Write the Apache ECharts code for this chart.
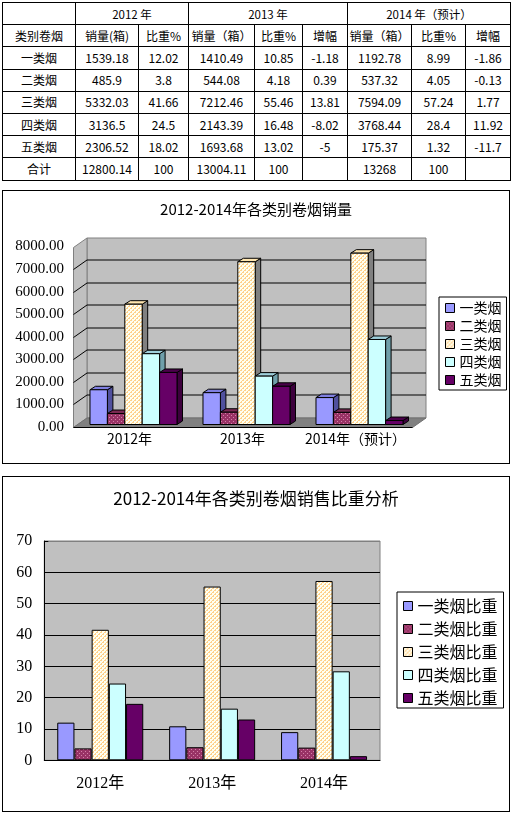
<!DOCTYPE html>
<html>
<head>
<meta charset="utf-8">
<script src="https://cdn.jsdelivr.net/npm/echarts@6/dist/echarts.min.js"></script>
<style>
body { margin: 0; background: #fff; width: 513px; height: 813px; position: relative; overflow: hidden;
       font-family: "Noto Sans CJK SC", sans-serif; color: #000; }
#tbl { position: absolute; left: 2px; top: 2px; width: 508px; border-collapse: collapse; table-layout: fixed; font-size: 12px; }
#tbl td { border: 1px solid #000; text-align: center; padding: 0; height: 21.2px; line-height: 14px; white-space: nowrap; overflow: hidden; }
#tbl tr.top td { font-size: 11.5px; }
.box { position: absolute; left: 2px; width: 508px; border: 1px solid #000; box-sizing: border-box; }
.box > div { width: 100%; height: 100%; }
</style>
</head>
<body>
<table id="tbl"></table>
<div class="box" style="top:190px;height:274px;"><div id="c1"></div></div>
<div class="box" style="top:476px;height:336px;"><div id="c2"></div></div>
<script>
// table / chart data
const tableYears = ['2012 年', '2013 年', '2014 年（预计）'];
const tableHeads = ['类别卷烟', '销量(箱)', '比重%', '销量（箱）', '比重%', '增幅', '销量（箱）', '比重%', '增幅'];
const kinds = ['一类烟', '二类烟', '三类烟', '四类烟', '五类烟'];
const sales2012 = [1539.18, 485.9, 5332.03, 3136.5, 2306.52];
const share2012 = [12.02, 3.8, 41.66, 24.5, 18.02];
const sales2013 = [1410.49, 544.08, 7212.46, 2143.39, 1693.68];
const share2013 = [10.85, 4.18, 55.46, 16.48, 13.02];
const growth2013 = [-1.18, 0.39, 13.81, -8.02, -5];
const sales2014 = [1192.78, 537.32, 7594.09, 3768.44, 175.37];
const share2014 = [8.99, 4.05, 57.24, 28.4, 1.32];
const growth2014 = [-1.86, -0.13, 1.77, 11.92, -11.7];
const totalRow = ['合计', 12800.14, 100, 13004.11, 100, '', 13268, 100, ''];
const salesYears = ['2012年', '2013年', '2014年（预计）'];
const shareYears = ['2012年', '2013年', '2014年'];
const shareNames = ['一类烟比重', '二类烟比重', '三类烟比重', '四类烟比重', '五类烟比重'];

const colWidths = [73, 63, 50, 66, 48, 45, 64, 54, 45];
const FONT = '"Noto Sans CJK SC", sans-serif';
const SERIF = '"Liberation Serif", "Noto Sans CJK SC", serif';

// build the table
(function () {
    let tbl = document.getElementById('tbl');
    let html = '<colgroup>' + colWidths.map(w => '<col style="width:' + w + 'px">').join('') + '</colgroup>';
    html += '<tr class="top"><td></td><td colspan="2">' + tableYears[0] + '</td><td colspan="3">' + tableYears[1] +
        '</td><td colspan="3">' + tableYears[2] + '</td></tr>';
    html += '<tr>' + tableHeads.map(h => '<td>' + h + '</td>').join('') + '</tr>';
    kinds.forEach(function (k, i) {
        let row = [k, sales2012[i], share2012[i], sales2013[i], share2013[i], growth2013[i], sales2014[i], share2014[i], growth2014[i]];
        html += '<tr>' + row.map(v => '<td>' + v + '</td>').join('') + '</tr>';
    });
    html += '<tr>' + totalRow.map(v => '<td>' + v + '</td>').join('') + '</tr>';
    tbl.innerHTML = html;
})();

// small dotted fills
function makePattern(base, dot, pts) {
    let cv = document.createElement('canvas');
    cv.width = 4; cv.height = 4;
    let ctx = cv.getContext('2d');
    ctx.fillStyle = base;
    ctx.fillRect(0, 0, 4, 4);
    ctx.fillStyle = dot;
    pts.forEach(p => ctx.fillRect(p[0], p[1], 1, 1));
    return { image: cv, repeat: 'repeat' };
}
const redDots = makePattern('#993366', '#d480a8', [[0, 0], [2, 2]]);
const yellowDots = makePattern('#fffff0', '#ffd08a', [[0, 0], [0, 1], [2, 2], [2, 3], [1, 3], [3, 1]]);

const fronts = ['#9999ff', redDots, yellowDots, '#ccffff', '#660066'];
const tops = ['#7f7fe0', '#7a2952', '#ffe6b0', '#9fd0dc', '#4a004a'];
const sides = ['#50509e', '#661f44', '#808080', '#6f9faa', '#3d003d'];

// ---------- chart 1: 3d-ish clustered columns ----------
const DX = 13.5, DY = -9.5;    // wall depth
const BX = 4, BY = -2.5;       // bar front offset
const BDX = 5.5, BDY = -3.5;   // bar depth
const SALES_MAX = 8000, SALES_STEP = 1000;

function px(v) { return Math.round(v) + 0.5; }

function renderWalls(params, api) {
    let cs = params.coordSys;
    let x0 = px(cs.x), x1 = px(cs.x + cs.width);
    let yb = px(api.coord([0, 0])[1]), yt = px(api.coord([0, SALES_MAX])[1]);
    let kids = [];
    kids.push({ type: 'rect', shape: { x: x0 + DX, y: yt + DY, width: x1 - x0, height: yb - yt },
        style: { fill: '#c0c0c0', stroke: '#808080', lineWidth: 1 } });
    kids.push({ type: 'polygon', shape: { points: [[x0, yb], [x0, yt], [x0 + DX, yt + DY], [x0 + DX, yb + DY]] },
        style: { fill: '#c0c0c0', stroke: '#808080', lineWidth: 1 } });
    kids.push({ type: 'polygon', shape: { points: [[x0, yb], [x1, yb], [x1 + DX, yb + DY], [x0 + DX, yb + DY]] },
        style: { fill: '#808080', stroke: '#707070', lineWidth: 1 } });
    for (let v = SALES_STEP; v < SALES_MAX; v += SALES_STEP) {
        let y = px(api.coord([0, v])[1]);
        kids.push({ type: 'line', shape: { x1: x0 + DX, y1: y + DY, x2: x1 + DX, y2: y + DY }, style: { stroke: '#000', lineWidth: 1 } });
        kids.push({ type: 'line', shape: { x1: x0, y1: y, x2: x0 + DX, y2: y + DY }, style: { stroke: '#000', lineWidth: 1 } });
    }
    kids.push({ type: 'line', shape: { x1: x0, y1: yb, x2: x1, y2: yb }, style: { stroke: '#000', lineWidth: 1 } });
    return { type: 'group', children: kids };
}

function barRenderer(k) {
    return function (params, api) {
        let c = api.value(0), v = api.value(1);
        let base = api.coord([c, 0]), peak = api.coord([c, v]);
        let bw = api.size([1, 0])[0] * 0.154;
        let x = base[0] - bw * 2.5 + k * bw + BX;
        let yb = base[1] + BY, yt = peak[1] + BY;
        return { type: 'group', children: [
            { type: 'polygon', shape: { points: [[x + bw, yt], [x + bw + BDX, yt + BDY], [x + bw + BDX, yb + BDY], [x + bw, yb]] },
              style: { fill: sides[k], stroke: '#000', lineWidth: 1 } },
            { type: 'polygon', shape: { points: [[x, yt], [x + bw, yt], [x + bw + BDX, yt + BDY], [x + BDX, yt + BDY]] },
              style: { fill: tops[k], stroke: '#000', lineWidth: 1 } },
            { type: 'rect', shape: { x: x, y: yt, width: bw, height: yb - yt },
              style: { fill: fronts[k], stroke: '#000', lineWidth: 1 } }
        ] };
    };
}

const salesByYear = [sales2012, sales2013, sales2014];
let c1Series = [{
    name: 'walls', type: 'custom', silent: true, renderItem: renderWalls,
    data: [[0, 0]], encode: { x: 0, y: 1 }
}];
kinds.forEach(function (name, k) {
    c1Series.push({
        name: name, type: 'custom', renderItem: barRenderer(k),
        itemStyle: { color: fronts[k] },
        encode: { x: 0, y: 1 },
        data: salesByYear.map((arr, i) => [i, arr[k]])
    });
});

const chart1 = echarts.init(document.getElementById('c1'));
chart1.setOption({
    animation: false,
    title: { text: '2012-2014年各类别卷烟销量', left: 'center', top: 6,
        textStyle: { fontFamily: FONT, fontSize: 15, fontWeight: 'normal', color: '#000' } },
    legend: {
        orient: 'vertical', left: 436, top: 106, icon: 'rect', itemWidth: 9, itemHeight: 9, itemGap: 4,
        padding: [4, 5, 3, 6], borderColor: '#000', borderWidth: 1,
        textStyle: { fontFamily: FONT, fontSize: 14, lineHeight: 14, color: '#000' },
        data: kinds.map((n, k) => ({ name: n, itemStyle: { color: fronts[k], borderColor: '#000', borderWidth: 1 } }))
    },
    grid: { left: 70, top: 55.5, width: 339, height: 180.5 },
    xAxis: {
        type: 'category', data: salesYears,
        axisLine: { show: false }, axisTick: { show: false },
        axisLabel: { interval: 0, margin: 5, fontFamily: FONT, fontSize: 14, color: '#000' }
    },
    yAxis: {
        type: 'value', min: 0, max: SALES_MAX, interval: SALES_STEP,
        axisLine: { show: false }, axisTick: { show: false }, splitLine: { show: false },
        axisLabel: { margin: 9, formatter: v => v.toFixed(2), fontFamily: SERIF, fontSize: 15, color: '#000' }
    },
    series: c1Series
});

// ---------- chart 2: flat clustered columns ----------
const shareByYear = [share2012, share2013, share2014];
const chart2 = echarts.init(document.getElementById('c2'));
chart2.setOption({
    animation: false,
    title: { text: '2012-2014年各类别卷烟销售比重分析', left: 'center', top: 8,
        textStyle: { fontFamily: FONT, fontSize: 17, fontWeight: 'normal', color: '#000' } },
    legend: {
        orient: 'vertical', left: 394, top: 115, icon: 'rect', itemWidth: 9, itemHeight: 9, itemGap: 7,
        padding: [6, 6, 2, 6], borderColor: '#000', borderWidth: 1,
        textStyle: { fontFamily: FONT, fontSize: 16, lineHeight: 16, color: '#000' },
        data: shareNames.map((n, k) => ({ name: n, itemStyle: { color: fronts[k], borderColor: '#000', borderWidth: 1 } }))
    },
    grid: { left: 41.3, top: 64, width: 335.7, height: 219.3, show: true,
        backgroundColor: '#c0c0c0', borderColor: '#808080', borderWidth: 1 },
    xAxis: {
        type: 'category', data: shareYears,
        axisLine: { lineStyle: { color: '#000', width: 1 } },
        axisTick: { inside: true, length: 4, lineStyle: { color: '#000' } },
        axisLabel: { interval: 0, margin: 15, fontFamily: SERIF, fontSize: 16, color: '#000' }
    },
    yAxis: {
        type: 'value', min: 0, max: 70, interval: 10,
        axisLine: { show: true, lineStyle: { color: '#000', width: 1 } },
        axisTick: { show: true, inside: true, length: 4, lineStyle: { color: '#000' } },
        splitLine: { lineStyle: { color: ['#000', '#000', '#000', '#000', '#000', '#000', '#000', '#808080'], width: 1 } },
        axisLabel: { margin: 12, fontFamily: SERIF, fontSize: 16, color: '#000' }
    },
    series: shareNames.map((name, k) => ({
        name: name, type: 'bar', barWidth: 17.2, barGap: '0%',
        itemStyle: { color: fronts[k], borderColor: '#000', borderWidth: 1 },
        data: shareByYear.map(arr => arr[k])
    }))
});
</script>
</body>
</html>
